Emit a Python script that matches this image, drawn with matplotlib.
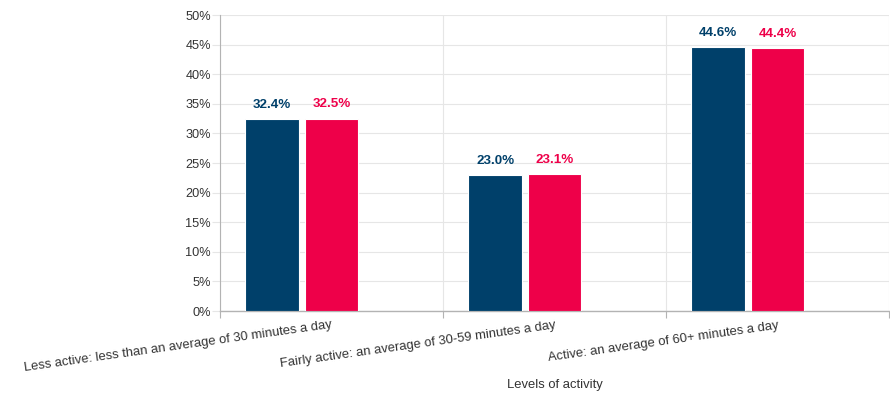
import matplotlib
matplotlib.use("Agg")
import matplotlib.pyplot as plt
from matplotlib.ticker import FuncFormatter

plt.rcParams['font.family'] = ['Liberation Sans', 'DejaVu Sans']

categories = [
    "Less active: less than an average of 30 minutes a day",
    "Fairly active: an average of 30-59 minutes a day",
    "Active: an average of 60+ minutes a day",
]
series_a = [32.4, 23.0, 44.6]
series_b = [32.5, 23.1, 44.4]
yticks = [0, 5, 10, 15, 20, 25, 30, 35, 40, 45, 50]

color_a = "#00406A"
color_b = "#EE0049"
grid_c = "#e6e6e6"
axis_c = "#b3b3b3"
text_c = "#333333"

fig = plt.figure(figsize=(8.9, 3.96), dpi=100)
ax = fig.add_axes([220 / 890, 1 - 311 / 396, 669 / 890, (311 - 15) / 396])

n = len(categories)
centers = list(range(n))
slot = 0.266
width = 0.24

bars_a = ax.bar([c - slot for c in centers], series_a, width=width, color=color_a,
                edgecolor="white", linewidth=0.8, zorder=3)
bars_b = ax.bar(centers, series_b, width=width, color=color_b,
                edgecolor="white", linewidth=0.8, zorder=3)

for bars, vals, col in ((bars_a, series_a, color_a), (bars_b, series_b, color_b)):
    for b, v in zip(bars, vals):
        ax.annotate(f"{v:.1f}%", (b.get_x() + b.get_width() / 2, v),
                    xytext=(0, 6), textcoords="offset points",
                    ha="center", va="bottom", fontsize=9.6, fontweight="bold",
                    color=col)

ax.set_xlim(-0.5, n - 0.5)
ax.set_ylim(0, 50)
ax.set_yticks(yticks)
ax.yaxis.set_major_formatter(FuncFormatter(lambda v, p: f"{v:.0f}%"))
ax.tick_params(axis="y", length=6, color=grid_c, labelcolor=text_c,
               labelsize=9.2, pad=0.5)

# category boundaries carry the tick marks and vertical grid
boundaries = [i - 0.5 for i in range(n + 1)]
ax.set_xticks(boundaries)
ax.set_xticklabels([""] * len(boundaries))
ax.tick_params(axis="x", which="major", length=5, color=axis_c)

ax.set_xticks(centers, minor=True)
ax.set_xticklabels(categories, minor=True, rotation=8, ha="right",
                   rotation_mode="anchor", fontsize=9.4, color=text_c)
ax.tick_params(axis="x", which="minor", length=0, pad=6)

ax.grid(True, which="major", color=grid_c, linewidth=0.8, zorder=0)
ax.set_axisbelow(True)

for s in ("top", "right"):
    ax.spines[s].set_visible(False)
ax.spines["left"].set_color(axis_c)
ax.spines["bottom"].set_color(axis_c)
ax.spines["bottom"].set_linewidth(1.0)

fig.text(555 / 890, 1 - 385 / 396, "Levels of activity", ha="center",
         va="center", fontsize=9.4, color=text_c)

fig.savefig("out.png", dpi=100, facecolor="white")
